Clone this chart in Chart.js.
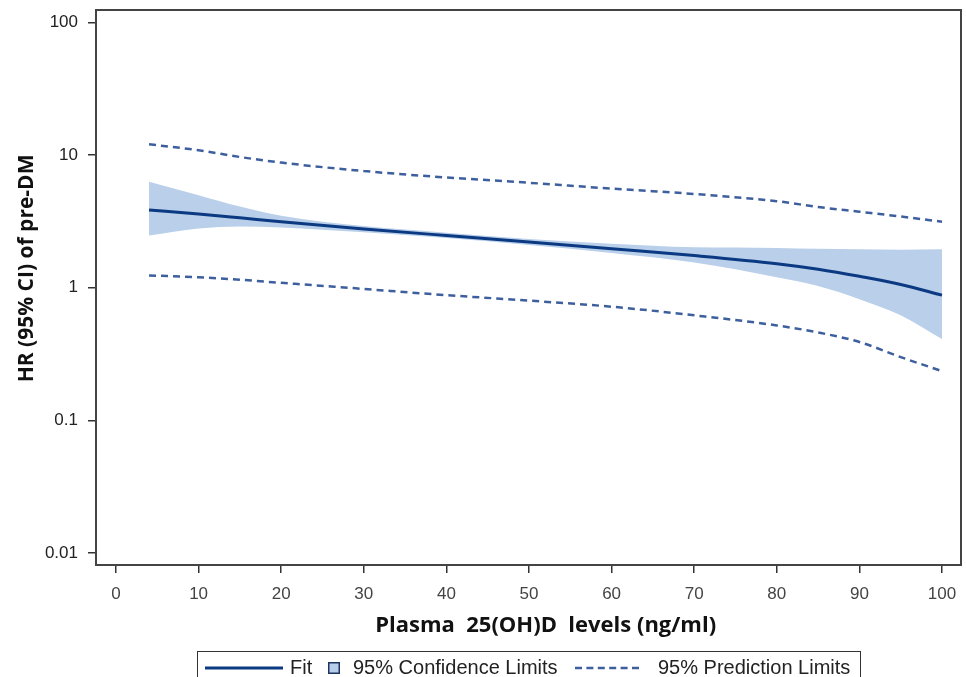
<!DOCTYPE html>
<html lang="en">
<head>
  <meta charset="UTF-8">
  <title>HR of pre-DM by plasma 25(OH)D</title>
  <script src="https://cdn.jsdelivr.net/npm/chart.js"></script>
  <style>
    body { margin: 0; background: #fff; }
    #wrap { position: relative; width: 966px; height: 677px; overflow: hidden; }
    #legend {
      position: absolute; left: 197px; top: 651px; width: 664px; height: 36px;
      border: 1.5px solid #333; box-sizing: border-box;
      font-family: "Liberation Sans", Arial, sans-serif; font-size: 20px; color: #222;
    }
    #legend span, #legend svg { position: absolute; }
    #legend span { top: 4px; white-space: nowrap; }
  </style>
</head>
<body>
  <div id="wrap">
    <canvas id="myChart" width="966" height="677"></canvas>
    <div id="legend">
      <svg style="left:7px;top:12px" width="80" height="8"><line x1="0" y1="4" x2="78" y2="4" stroke="#0b3a82" stroke-width="3"/></svg>
      <span style="left:92px">Fit</span>
      <svg style="left:130px;top:10px" width="12" height="12"><rect x="0.75" y="0.75" width="10.5" height="10.5" fill="#b7cdea" stroke="#1d3560" stroke-width="1.5"/></svg>
      <span style="left:155px">95% Confidence Limits</span>
      <svg style="left:377px;top:12px" width="66" height="8"><line x1="0" y1="4" x2="64" y2="4" stroke="#3d5f9e" stroke-width="2.5" stroke-dasharray="7,4.4"/></svg>
      <span style="left:460px">95% Prediction Limits</span>
    </div>
  </div>

  <script>
    const levels = [4, 10, 15, 20, 30, 40, 50, 60, 70, 80, 85, 90, 95, 100];
    const fitHR = [3.87, 3.6, 3.37, 3.15, 2.78, 2.48, 2.22, 1.97, 1.75, 1.52, 1.38, 1.22, 1.06, 0.88];
    const ciUpper = [6.3, 5.0, 4.1, 3.5, 2.92, 2.6, 2.33, 2.15, 2.02, 2.0, 1.97, 1.95, 1.94, 1.95];
    const ciLower = [2.48, 2.8, 2.9, 2.85, 2.62, 2.37, 2.1, 1.83, 1.55, 1.2, 1.03, 0.82, 0.62, 0.41];
    const predUpper = [12.1, 10.9, 9.7, 8.8, 7.6, 6.8, 6.2, 5.6, 5.1, 4.5, 4.07, 3.75, 3.45, 3.15];
    const predLower = [1.24, 1.2, 1.15, 1.09, 0.98, 0.88, 0.8, 0.72, 0.62, 0.52, 0.46, 0.39, 0.3, 0.235];

    const xTicks = [0, 10, 20, 30, 40, 50, 60, 70, 80, 90, 100];
    const yTicks = [0.01, 0.1, 1, 10, 100];
    const yTickLabels = ['0.01', '0.1', '1', '10', '100'];

    const pts = arr => arr.map((v, i) => ({ x: levels[i], y: v }));

    // box around the whole plot area
    const frame = {
      id: 'frame',
      afterDraw(chart) {
        const { ctx, chartArea: a } = chart;
        ctx.save();
        ctx.strokeStyle = '#444';
        ctx.lineWidth = 2;
        ctx.strokeRect(a.left, a.top, a.right - a.left, a.bottom - a.top);
        ctx.restore();
      }
    };

    const ctx = document.getElementById('myChart').getContext('2d');
    new Chart(ctx, {
      type: 'line',
      data: {
        datasets: [
          {
            label: 'Fit',
            data: pts(fitHR),
            borderColor: '#0b3a82',
            borderWidth: 3,
            pointRadius: 0,
            fill: false,
            cubicInterpolationMode: 'monotone'
          },
          {
            label: 'Prediction upper',
            data: pts(predUpper),
            borderColor: '#3d5f9e',
            borderWidth: 2.5,
            borderDash: [7, 5],
            pointRadius: 0,
            fill: false,
            cubicInterpolationMode: 'monotone'
          },
          {
            label: 'Prediction lower',
            data: pts(predLower),
            borderColor: '#3d5f9e',
            borderWidth: 2.5,
            borderDash: [7, 5],
            pointRadius: 0,
            fill: false,
            cubicInterpolationMode: 'monotone'
          },
          {
            label: 'CI upper',
            data: pts(ciUpper),
            borderWidth: 0,
            borderColor: 'rgba(0,0,0,0)',
            backgroundColor: '#b9cfea',
            pointRadius: 0,
            fill: '+1',
            cubicInterpolationMode: 'monotone'
          },
          {
            label: 'CI lower',
            data: pts(ciLower),
            borderWidth: 0,
            borderColor: 'rgba(0,0,0,0)',
            pointRadius: 0,
            fill: false,
            cubicInterpolationMode: 'monotone'
          }
        ]
      },
      options: {
        responsive: false,
        animation: false,
        layout: { padding: { top: 10, right: 5, bottom: 37, left: 0 } },
        plugins: {
          legend: { display: false },
          tooltip: { enabled: false }
        },
        scales: {
          x: {
            type: 'linear',
            min: -2.42,
            max: 102.3,
            afterFit: s => { s.height = 75; s.paddingLeft = 0; s.paddingRight = 0; },
            afterBuildTicks: s => { s.ticks = xTicks.map(v => ({ value: v })); },
            grid: { drawOnChartArea: false, tickLength: 8, color: '#333', lineWidth: 1.5 },
            border: { color: '#444', width: 2 },
            ticks: {
              padding: 11,
              color: '#444',
              font: { family: 'Liberation Sans', size: 17 }
            },
            title: {
              display: true,
              text: '      Plasma  25(OH)D  levels (ng/ml)',
              color: '#111',
              padding: { top: 0, bottom: 1 },
              font: { family: 'Open Sans', size: 22, weight: 'bold' }
            }
          },
          y: {
            type: 'logarithmic',
            min: 0.0081,
            max: 124.7,
            afterFit: s => { s.width = 96; s.paddingTop = 0; s.paddingBottom = 0; },
            afterBuildTicks: s => { s.ticks = yTicks.map(v => ({ value: v })); },
            grid: { drawOnChartArea: false, tickLength: 8, color: '#333', lineWidth: 1.5 },
            border: { color: '#444', width: 2 },
            ticks: {
              padding: 10,
              color: '#222',
              font: { family: 'Liberation Sans', size: 17 },
              callback: (v) => {
                const i = yTicks.indexOf(v);
                return i >= 0 ? yTickLabels[i] : '';
              }
            },
            title: {
              display: true,
              text: '       HR (95% CI) of pre-DM',
              color: '#111',
              padding: { top: 14, bottom: 0 },
              font: { family: 'Open Sans', size: 21, weight: 'bold' }
            }
          }
        }
      },
      plugins: [frame]
    });
  </script>
</body>
</html>
